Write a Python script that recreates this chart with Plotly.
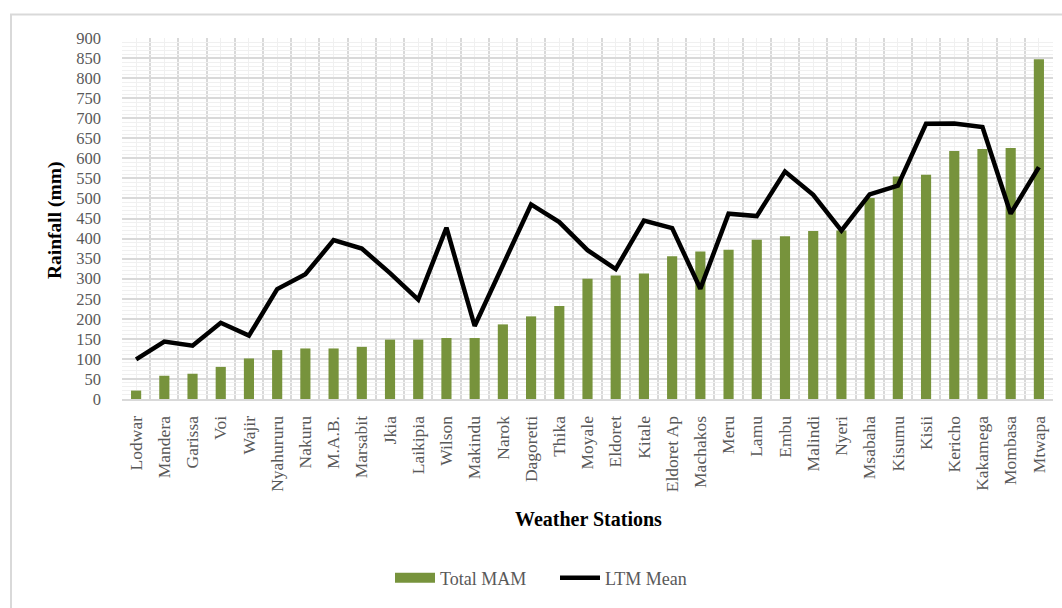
import plotly.graph_objects as go

# Weather stations ordered by total March-May rainfall
stations = [
    "Lodwar", "Mandera", "Garissa", "Voi", "Wajir", "Nyahururu", "Nakuru", "M.A.B.",
    "Marsabit", "Jkia", "Laikipia", "Wilson", "Makindu", "Narok", "Dagoretti", "Thika",
    "Moyale", "Eldoret", "Kitale", "Eldoret Ap", "Machakos", "Meru", "Lamu", "Embu",
    "Malindi", "Nyeri", "Msabaha", "Kisumu", "Kisii", "Kericho", "Kakamega", "Mombasa",
    "Mtwapa",
]

# Total MAM rainfall (mm)
total_mam = [
    21, 58, 63, 80, 101, 122, 126, 126,
    130, 148, 148, 152, 152, 186, 206, 232,
    300, 308, 313, 356, 368, 372, 397, 406,
    419, 420, 501, 555, 559, 618, 623, 626,
    847,
]

# Long-term mean MAM rainfall (mm)
ltm_mean = [
    99, 143, 133, 190, 158, 274, 311, 396,
    375, 314, 248, 427, 182, 333, 485, 441,
    371, 324, 445, 426, 275, 462, 456, 567,
    509, 420, 510, 532, 686, 687, 678, 462,
    578,
]

y_ticks = list(range(0, 901, 50))

GREEN = "#77933C"
GRID_MAJOR = "#d9d9d9"
GRID_MINOR = "#f0f0f0"
TEXT = "#595959"
FONT = "Liberation Serif"

pos = list(range(len(stations)))

fig = go.Figure()
fig.add_trace(go.Bar(
    x=pos, y=total_mam, name="Total MAM",
    marker=dict(color=GREEN, line=dict(width=0)),
    width=0.36, showlegend=False,
))
# wide flat swatch for the bar series in the legend
fig.add_trace(go.Scatter(
    x=[None], y=[None], name="Total MAM", mode="lines",
    line=dict(color=GREEN, width=10),
))
fig.add_trace(go.Scatter(
    x=pos, y=ltm_mean, name="LTM Mean", mode="lines",
    line=dict(color="black", width=4.5),
))

# plot area in pixels: x 122..1053, y 38..399
L, R, T, B = 122, 1053, 38, 399
W, H = 1062, 608
pw, ph = R - L, B - T


def px_x(px):
    return (px - L) / pw


def px_y(py):
    return (B - py) / ph


fig.update_layout(
    width=W, height=H,
    margin=dict(l=L, r=W - R, t=T, b=H - B),
    paper_bgcolor="white", plot_bgcolor="white",
    font=dict(family=FONT, size=15, color=TEXT),
    showlegend=True,
    legend=dict(
        orientation="h", x=px_x(555), y=px_y(578),
        xanchor="center", yanchor="middle",
        font=dict(family=FONT, size=18, color=TEXT),
        itemwidth=40, entrywidth=110, tracegroupgap=0,
    ),
    xaxis=dict(
        range=[-0.5, len(stations) - 0.5],
        tickmode="array", tickvals=pos, ticktext=stations,
        tickangle=-90, ticks="", ticklabelstandoff=8,
        tickfont=dict(family=FONT, size=17.5, color=TEXT),
        showgrid=True, gridcolor=GRID_MINOR, gridwidth=1,
        minor=dict(tickmode="linear", tick0=0.5, dtick=1, showgrid=True,
                   gridcolor=GRID_MAJOR, gridwidth=1.5),
        showline=True, linecolor=GRID_MAJOR, linewidth=2,
        zeroline=False, fixedrange=True,
    ),
    yaxis=dict(
        range=[0, 900], tickmode="array", tickvals=y_ticks,
        ticktext=[str(v) for v in y_ticks],
        ticks="", ticklabelstandoff=20,
        tickfont=dict(family=FONT, size=16.5, color=TEXT),
        showgrid=True, gridcolor=GRID_MAJOR, gridwidth=1.5,
        minor=dict(tickmode="linear", tick0=0, dtick=10, showgrid=True,
                   gridcolor=GRID_MINOR, gridwidth=1),
        zeroline=False, showline=False, fixedrange=True,
    ),
    annotations=[
        dict(text="<b>Rainfall (mm)</b>", xref="paper", yref="paper",
             x=px_x(55), y=px_y(220), textangle=-90, showarrow=False,
             font=dict(family=FONT, size=19.5, color="black"),
             xanchor="center", yanchor="middle"),
        dict(text="<b>Weather Stations</b>", xref="paper", yref="paper",
             x=px_x(588), y=px_y(519), showarrow=False,
             font=dict(family=FONT, size=20, color="black"),
             xanchor="center", yanchor="middle"),
    ],
    shapes=[
        # chart frame
        dict(type="rect", xref="paper", yref="paper",
             x0=px_x(11), x1=px_x(1075), y0=px_y(620), y1=px_y(14.5),
             line=dict(color=GRID_MAJOR, width=2), fillcolor="rgba(0,0,0,0)",
             layer="below"),
    ],
)

fig.write_html("out.html")
